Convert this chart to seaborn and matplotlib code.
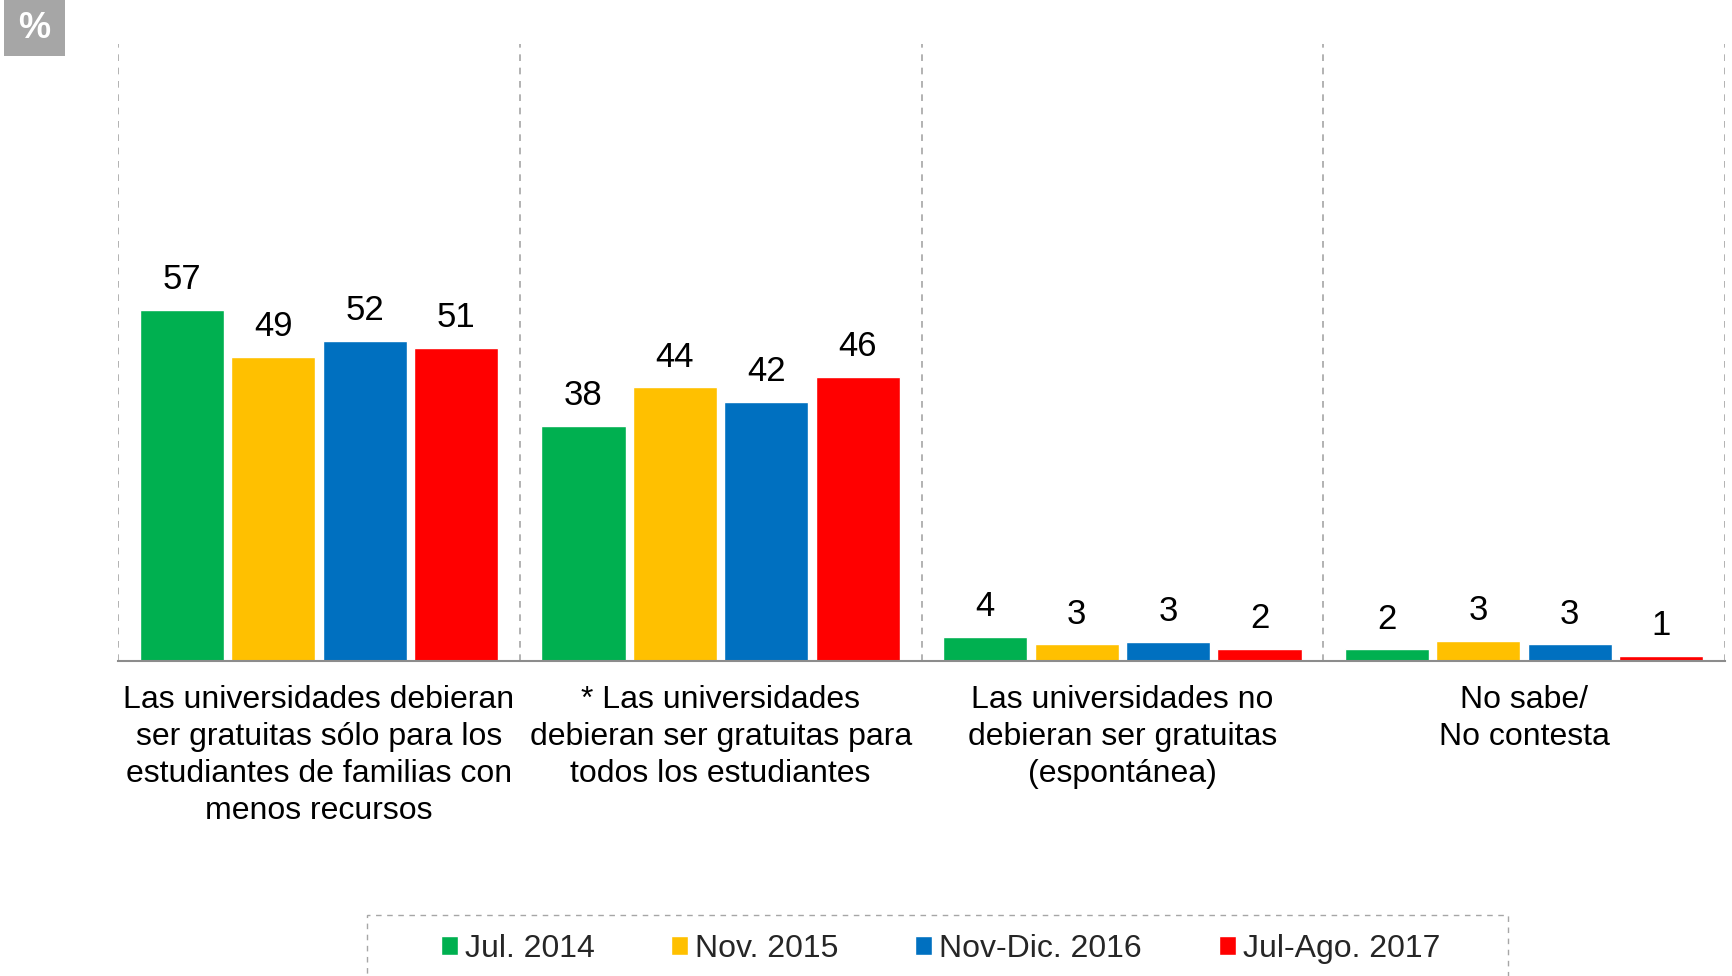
import matplotlib
matplotlib.use("Agg")
import matplotlib.pyplot as plt
import pandas as pd
import seaborn as sns
from matplotlib.patches import Rectangle

# categorias y series
categorias = [
    "Las universidades debieran\nser gratuitas sólo para los\nestudiantes de familias con\nmenos recursos",
    "* Las universidades\ndebieran ser gratuitas para\ntodos los estudiantes",
    "Las universidades no\ndebieran ser gratuitas\n(espontánea)",
    "No sabe/\nNo contesta",
]
periodos = ["Jul. 2014", "Nov. 2015", "Nov-Dic. 2016", "Jul-Ago. 2017"]
jul_2014 = [56.8, 38.0, 3.8, 1.8]
nov_2015 = [49.3, 44.3, 2.6, 3.2]
nov_dic_2016 = [51.8, 41.9, 3.0, 2.6]
jul_ago_2017 = [50.7, 46.0, 1.9, 0.8]
colores = ["#00B050", "#FFC000", "#0070C0", "#FF0000"]

series = [jul_2014, nov_2015, nov_dic_2016, jul_ago_2017]
filas = []
for periodo, valores in zip(periodos, series):
    for cat, v in zip(categorias, valores):
        filas.append({"categoria": cat, "periodo": periodo, "valor": v})
df = pd.DataFrame(filas)

sns.set_style("white")
plt.rcParams["font.family"] = ["Liberation Sans", "DejaVu Sans"]

fig = plt.figure(figsize=(17.32, 9.76), dpi=100)
W, H = 1732, 976
ax = fig.add_axes([118 / W, 1 - 660.5 / H, (1725 - 118) / W, (660.5 - 44) / H])

sns.barplot(data=df, x="categoria", y="valor", hue="periodo", order=categorias,
            hue_order=periodos, palette=colores, width=0.91, gap=0.08,
            saturation=1, errorbar=None, ax=ax, legend=True)

for cont in ax.containers:
    ax.bar_label(cont, fmt="%.0f", padding=10, fontsize=25, color="black")

ax.set_ylim(0, 100)
ax.set_xlim(-0.5, 3.5)
ax.set_xlabel("")
ax.set_ylabel("")
ax.set_yticks([])
for lado in ["top", "left", "right"]:
    ax.spines[lado].set_visible(False)
ax.spines["bottom"].set_color("#8C8C8C")
ax.spines["bottom"].set_linewidth(1.5)

# separadores entre categorias
ax.set_xticks([-0.5, 0.5, 1.5, 2.5, 3.5], minor=True)
ax.tick_params(axis="x", which="minor", length=7, width=1.1, color="#8C8C8C", direction="out")
ax.tick_params(axis="x", which="major", length=0, pad=18)
ax.set_xticklabels(categorias, fontsize=23, linespacing=1.29, color="black")
ax.grid(axis="x", which="minor", linestyle=(0, (4, 4)), color="#A6A6A6", linewidth=1.2)
ax.grid(axis="y", visible=False)
ax.set_axisbelow(True)

# leyenda
handles, labels = ax.get_legend_handles_labels()
ax.get_legend().remove()
leg = fig.legend(handles, labels, loc="center", bbox_to_anchor=(0.543, 1 - 949 / H),
                 ncol=4, frameon=False, fontsize=23, handlelength=0.53,
                 handleheight=0.53, handletextpad=0.22, columnspacing=2.4)
for t in leg.get_texts():
    t.set_color("#262626")
fig.patches.append(Rectangle((367 / W, -0.02), (1508 - 367) / W, 0.02 + 1 - 915 / H,
                             transform=fig.transFigure, fill=False, edgecolor="#A6A6A6",
                             linestyle=(0, (4, 4)), linewidth=1.0))

# recuadro de porcentaje
fig.patches.append(Rectangle((4 / W, 1 - 56 / H), 61 / W, 56 / H,
                             transform=fig.transFigure, facecolor="#A6A6A6", edgecolor="none"))
fig.text(34.5 / W, 1 - 28 / H, "%", color="white", fontsize=26, fontweight="bold",
         ha="center", va="center")

fig.savefig("out.png", dpi=100)
